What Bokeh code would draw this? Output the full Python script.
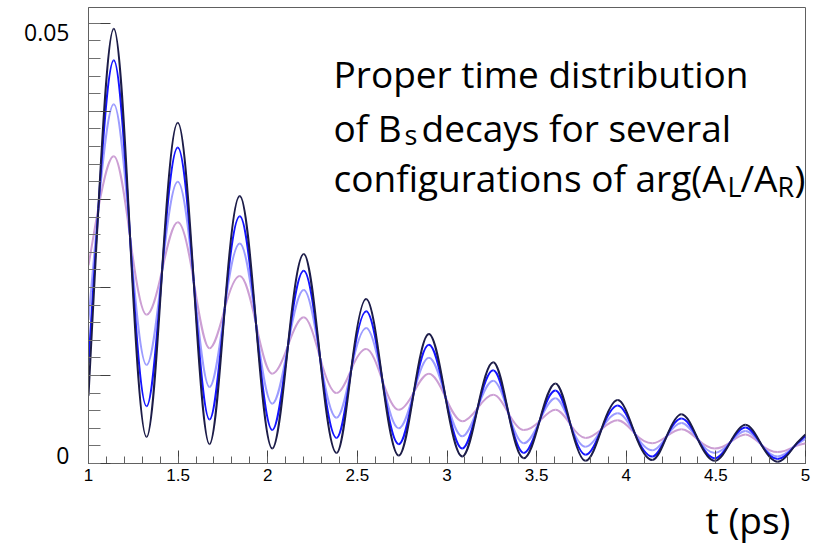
import numpy as np
from bokeh.plotting import figure
from bokeh.models import Label, FixedTicker, NumeralTickFormatter, Range1d, LinearAxis, Title
from bokeh.embed import file_html
from bokeh.resources import INLINE

# ---------------- data ----------------
t_start = 1.0
t_end = 5.0
t_peak = [1.141, 1.498, 1.844, 2.201, 2.549, 2.899, 3.258, 3.605, 3.952, 4.308, 4.665]
t_trough = [1.324, 1.675, 2.025, 2.384, 2.731, 3.085, 3.428, 3.773, 4.145, 4.494, 4.845]
# common crossing points of all curves
t_cross = [1.055, 1.232, 1.411, 1.587, 1.760, 1.935, 2.113, 2.292, 2.466, 2.640, 2.815, 2.992,
           3.171, 3.343, 3.516, 3.689, 3.862, 4.048, 4.226, 4.401, 4.580, 4.755, 4.935]
y_cross = [0.0290, 0.0257, 0.0220, 0.0207, 0.0176, 0.0158, 0.0134, 0.0120, 0.0107, 0.0094, 0.0081, 0.0075,
           0.0063, 0.0057, 0.0048, 0.0044, 0.0039, 0.0034, 0.0031, 0.0027, 0.0024, 0.0021, 0.0019]

navy_start, navy_end = 0.0077, 0.0033
navy_peak = [0.0494, 0.0387, 0.0304, 0.0238, 0.0187, 0.0147, 0.0115, 0.0091, 0.0072, 0.0056, 0.0044]
navy_trough = [0.0030, 0.0022, 0.0017, 0.0012, 0.0009, 0.0008, 0.0006, 0.0003, 0.0004, 0.0003, 0.0002]

blue_start, blue_end = 0.0114, 0.0031
blue_peak = [0.0458, 0.0359, 0.0281, 0.0219, 0.0173, 0.0135, 0.0106, 0.0083, 0.0066, 0.0051, 0.0041]
blue_trough = [0.0065, 0.0050, 0.0038, 0.0029, 0.0022, 0.0017, 0.0012, 0.0010, 0.0008, 0.0006, 0.0005]

light_start, light_end = 0.0163, 0.0028
light_peak = [0.0408, 0.0320, 0.0250, 0.0197, 0.0154, 0.0120, 0.0094, 0.0074, 0.0057, 0.0046, 0.0037]
light_trough = [0.0112, 0.0087, 0.0068, 0.0052, 0.0040, 0.0031, 0.0023, 0.0019, 0.0015, 0.0012, 0.0008]

lilac_start, lilac_end = 0.0225, 0.0023
lilac_peak = [0.0349, 0.0274, 0.0213, 0.0166, 0.0130, 0.0102, 0.0078, 0.0061, 0.0049, 0.0039, 0.0033]
lilac_trough = [0.0169, 0.0131, 0.0102, 0.0080, 0.0061, 0.0048, 0.0038, 0.0029, 0.0023, 0.0017, 0.0013]

x_ticks = [1, 1.5, 2, 2.5, 3, 3.5, 4, 4.5, 5]
y_ticks = [0, 0.01, 0.02, 0.03, 0.04, 0.05]
y_labels = {0: "0", 0.05: "0.05"}
x_title = "t (ps)"

series = [
    ("lilac", lilac_start, lilac_peak, lilac_trough, lilac_end, "#cc9fd4"),
    ("light", light_start, light_peak, light_trough, light_end, "#9c9cff"),
    ("blue", blue_start, blue_peak, blue_trough, blue_end, "#1414ff"),
    ("navy", navy_start, navy_peak, navy_trough, navy_end, "#1c1c48"),
]

FONT = "Open Sans"
BIG = "37px"
SUB = "27px"

# ---------------- figure ----------------
p = figure(width=817, height=552, output_backend="svg", toolbar_location=None,
           x_range=Range1d(1, 5), y_range=Range1d(0, 0.0518),
           min_border_left=88, min_border_right=12, min_border_top=7, min_border_bottom=89)
p.background_fill_color = "white"
p.border_fill_color = "white"
p.outline_line_color = "#606060"
p.xgrid.visible = False
p.ygrid.visible = False


def knots(start, peaks, troughs, end):
    t = [t_start, t_cross[0]]
    y = [start, y_cross[0]]
    kind = ["end", "cross"]
    for k in range(len(peaks)):
        t += [t_peak[k], t_cross[2 * k + 1], t_trough[k], t_cross[2 * k + 2]]
        y += [peaks[k], y_cross[2 * k + 1], troughs[k], y_cross[2 * k + 2]]
        kind += ["ext", "cross", "ext", "cross"]
    t.append(t_end)
    y.append(end)
    kind.append("end")
    return np.array(t), np.array(y), kind


def tangents(t, y, kind):
    m = np.zeros(len(t))
    for i in range(len(t)):
        if kind[i] == "ext":
            m[i] = 0.0
        elif kind[i] == "end":
            j = i + 1 if i == 0 else i - 1
            m[i] = (y[j] - y[i]) / (t[j] - t[i])
        else:
            s = [(y[j] - y[i]) / (t[j] - t[i]) for j in (i - 1, i + 1) if kind[j] == "ext"]
            m[i] = np.pi / 2 * np.mean(s)
    return m


for name, s0, pk, tr, s1, col in series:
    t, y, kind = knots(s0, pk, tr, s1)
    m = tangents(t, y, kind)
    h = t[1:] - t[:-1]
    p.bezier(x0=t[:-1], y0=y[:-1], x1=t[1:], y1=y[1:],
             cx0=t[:-1] + h / 3, cy0=y[:-1] + m[:-1] * h / 3,
             cx1=t[1:] - h / 3, cy1=y[1:] - m[1:] * h / 3,
             line_color=col, line_width=2)

# ---------------- axes ----------------
xa = p.xaxis[0]
xa.ticker = FixedTicker(ticks=x_ticks, minor_ticks=[round(1 + 0.1 * k, 2) for k in range(41)])
xa.formatter = NumeralTickFormatter(format="0.[0]")
xa.major_tick_in = 13
xa.major_tick_out = 0
xa.minor_tick_in = 7
xa.minor_tick_out = 0
xa.axis_line_color = "#606060"
xa.major_tick_line_color = "#404040"
xa.minor_tick_line_color = "#606060"
xa.major_label_text_font = "Liberation Sans"
xa.major_label_text_font_size = "17px"
xa.major_label_text_color = "#000000"
xa.major_label_standoff = 5

ya = p.yaxis[0]
ya.ticker = FixedTicker(ticks=y_ticks, minor_ticks=[round(0.002 * k, 4) for k in range(26)])
ya.major_label_overrides = {v: "" for v in y_ticks}
ya.major_label_standoff = 0
ya.major_tick_in = 22
ya.major_tick_out = 0
ya.minor_tick_in = 12
ya.minor_tick_out = 0
ya.axis_line_color = "#606060"
ya.major_tick_line_color = "#404040"
ya.minor_tick_line_color = "#707070"

# label-only axis: the slide puts "0" slightly above and "0.05" slightly below their ticks
p.extra_y_ranges = {"lab": Range1d(-0.000946, 0.05296)}
ya2 = LinearAxis(y_range_name="lab", ticker=FixedTicker(ticks=list(y_labels.keys()), minor_ticks=[]),
                 major_label_overrides=dict(y_labels), axis_line_color=None,
                 major_tick_line_color=None, minor_tick_line_color=None,
                 major_tick_in=0, major_tick_out=0, minor_tick_in=0, minor_tick_out=0,
                 major_label_standoff=19, major_label_text_font=FONT,
                 major_label_text_font_size="23px", major_label_text_color="#000000")
p.add_layout(ya2, "left")

p.add_layout(Title(text=x_title, align="right", offset=15, text_font=FONT, text_font_size=BIG,
                   text_font_style="normal", text_color="#000000", standoff=16), "below")

# ---------------- text block (placed by canvas pixel) ----------------
def dx(px):
    return 1 + (px - 88) / 179.25


def dy(py):
    return (463 - py) / 8800.0


def lab(px, py, text, size=BIG):
    p.add_layout(Label(x=dx(px), y=dy(py), text=text, text_font=FONT, text_font_size=size,
                       text_align="left", text_baseline="alphabetic", text_color="#000000"))


lab(333, 73, "Proper time distribution")
lab(333, 127, "of B")
lab(404, 134, "s", size=SUB)
lab(421, 127, "decays for several")
lab(333, 177, "configurations of arg(A")
lab(727, 186, "L", size=SUB)
lab(740, 177, "/A")
lab(777, 186, "R", size=SUB)
lab(794, 177, ")")

open("out.html", "w").write(file_html(p, INLINE))
